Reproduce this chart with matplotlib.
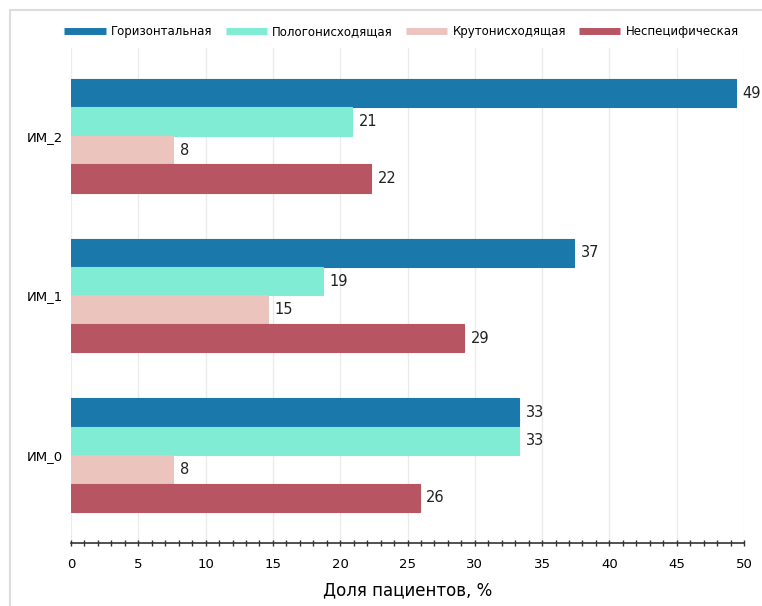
import matplotlib.pyplot as plt
import matplotlib.patches as mpatches
from matplotlib.lines import Line2D
from matplotlib.ticker import MultipleLocator

# categories (bottom to top) and series
groups = ["ИМ_0", "ИМ_1", "ИМ_2"]
series = ["Горизонтальная", "Пологонисходящая", "Крутонисходящая", "Неспецифическая"]
colors = ["#1a79aa", "#80ecd4", "#ecc4be", "#b85563"]

# values, per series, in the order of groups
horiz = [33.3, 37.4, 49.4]
pologo = [33.3, 18.7, 20.9]
kruto = [7.6, 14.6, 7.6]
nespec = [25.9, 29.2, 22.3]
values = [horiz, pologo, kruto, nespec]

fig = plt.figure(figsize=(7.62, 6.06), dpi=100)
ax = fig.add_axes([0.0932, 0.104, 0.8832, 0.8168])

# light frame around the figure
fig.patches.append(mpatches.Rectangle((10 / 762, -0.1), 1.2, 1 - 10 / 606 + 0.1,
                                      transform=fig.transFigure, fill=False,
                                      edgecolor="#dcdcdc", linewidth=1.5))

h = 0.178
offsets = [1.5 * h, 0.5 * h, -0.5 * h, -1.5 * h]
for vals, col, off in zip(values, colors, offsets):
    ypos = [i + off for i in range(len(groups))]
    ax.barh(ypos, vals, height=h, color=col, edgecolor=col, linewidth=0.8, zorder=3)
    for y, v in zip(ypos, vals):
        ax.text(v + 0.5, y, str(round(v)), va="center", ha="left",
                fontsize=10.5, color="#222222")

ax.set_xlim(0, 50)
ax.set_ylim(-0.55, 2.55)
ax.set_yticks(range(len(groups)))
ax.set_yticklabels(groups, fontsize=9.5)
ax.tick_params(axis="y", length=0, pad=6)

ax.xaxis.set_major_locator(MultipleLocator(5))
ax.xaxis.set_minor_locator(MultipleLocator(1))
ax.tick_params(axis="x", which="both", direction="inout", length=5, width=1,
               color="#333333", labelsize=9.5, pad=8)
ax.grid(axis="x", color="#ebebeb", linewidth=1, zorder=0)
ax.set_axisbelow(True)

for s in ["top", "right", "left"]:
    ax.spines[s].set_visible(False)
ax.spines["bottom"].set_color("#333333")
ax.spines["bottom"].set_linewidth(1.2)

ax.set_xlabel("Доля пациентов, %", fontsize=12, labelpad=8)

handles = [Line2D([0], [0], color=c, lw=5, solid_capstyle="butt") for c in colors]
fig.legend(handles, series, loc="center", bbox_to_anchor=(0.527, 1 - 32 / 606),
           ncol=4, frameon=False, fontsize=8.5,
           handlelength=3.5, columnspacing=1.1, handletextpad=0.45)

fig.savefig("out.png", dpi=100)
